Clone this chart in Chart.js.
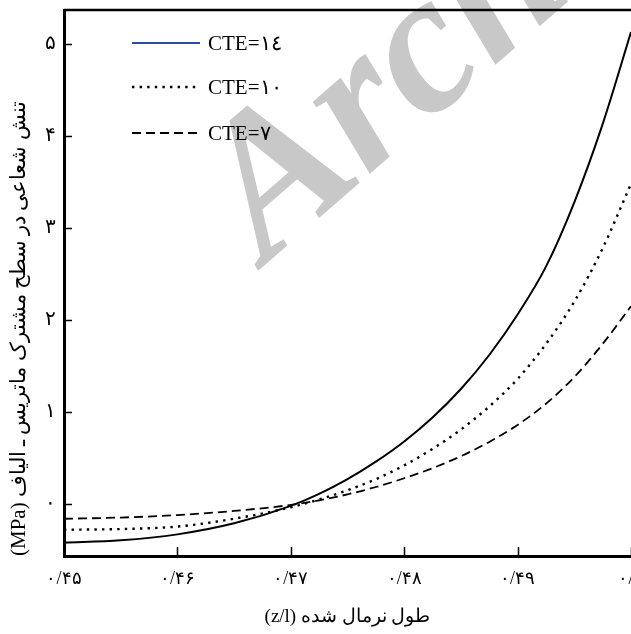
<!DOCTYPE html>
<html>
<head>
<meta charset="utf-8">
<script src="https://cdn.jsdelivr.net/npm/chart.js@4.4.1/dist/chart.umd.min.js"></script>
<style>
  html, body { margin: 0; padding: 0; background: #fff; }
  #wrap { width: 631px; height: 634px; position: relative; }
</style>
</head>
<body>
<div id="wrap"><canvas id="chart" dir="rtl"></canvas></div>
<script>
// === Daten ===
const zValues = [0.45, 0.455, 0.46, 0.465, 0.47, 0.4725, 0.475, 0.4775, 0.48, 0.4825, 0.485, 0.4875, 0.49, 0.4925, 0.495, 0.4975, 0.50];
const stressCTE14 = [-0.42, -0.395, -0.33, -0.21, -0.02, 0.11, 0.27, 0.46, 0.68, 0.94, 1.25, 1.62, 2.06, 2.58, 3.28, 4.13, 5.13];
const stressCTE10 = [-0.28, -0.272, -0.245, -0.16, -0.035, 0.05, 0.15, 0.27, 0.42, 0.60, 0.81, 1.06, 1.36, 1.74, 2.20, 2.78, 3.48];
const stressCTE7 = [-0.16, -0.147, -0.12, -0.075, -0.01, 0.04, 0.105, 0.185, 0.28, 0.39, 0.52, 0.675, 0.86, 1.09, 1.38, 1.74, 2.15];

const seriesLabels = ["CTE=١٤", "CTE=١٠", "CTE=٧"];
const legendColors = ["#2d4c9c", "#000000", "#000000"];

const xTickValues = [0.45, 0.46, 0.47, 0.48, 0.49, 0.50];
const xTickLabels = ["۰/۴۵", "۰/۴۶", "۰/۴۷", "۰/۴۸", "۰/۴۹", "۰/۵"];
const yTickValues = [0, 1, 2, 3, 4, 5];
const yTickLabels = ["۰", "۱", "۲", "۳", "۴", "۵"];

const xTitle = "طول نرمال شده (z/l)";
const yTitle = "تنش شعاعی در سطح مشترک ماتریس ـ الیاف (MPa)";
const watermarkText = "Archive";

const SERIF = "'Liberation Serif', 'DejaVu Serif', serif";

// === Plugins ===
// Wasserzeichen hinter allem
const watermark = {
  id: "watermark",
  beforeDraw(chart) {
    const ctx = chart.ctx;
    ctx.save();
    ctx.direction = "ltr";
    ctx.translate(266, 264);
    ctx.rotate(-41 * Math.PI / 180);
    ctx.font = "italic bold 200px " + SERIF;
    ctx.fillStyle = "#c8c8c8";
    ctx.textAlign = "left";
    ctx.textBaseline = "alphabetic";
    ctx.fillText(watermarkText, 0, 0);
    ctx.restore();
  },
};

// Ticks nach innen + obere Rahmenlinie
const frame = {
  id: "frame",
  afterDraw(chart) {
    const { ctx, chartArea, scales } = chart;
    ctx.save();
    ctx.strokeStyle = "#000";
    ctx.lineWidth = 1.5;
    ctx.beginPath();
    yTickValues.forEach((v) => {
      const y = Math.round(scales.y.getPixelForValue(v)) + 0.5;
      ctx.moveTo(chartArea.left, y);
      ctx.lineTo(chartArea.left + 8, y);
    });
    xTickValues.forEach((v) => {
      const x = Math.round(scales.x.getPixelForValue(v)) + 0.5;
      ctx.moveTo(x, chartArea.bottom);
      ctx.lineTo(x, chartArea.bottom - 9);
    });
    ctx.stroke();
    ctx.lineWidth = 2.5;
    ctx.beginPath();
    ctx.moveTo(chartArea.left, chartArea.top);
    ctx.lineTo(chartArea.right, chartArea.top);
    ctx.stroke();
    ctx.restore();
  },
};

// Legende innerhalb der Zeichenfläche
const insideLegend = {
  id: "insideLegend",
  afterDatasetsDraw(chart) {
    const { ctx, chartArea } = chart;
    const rowsY = [33, 77, 123];
    ctx.save();
    ctx.direction = "ltr";
    chart.data.datasets.forEach((ds, i) => {
      const y = chartArea.top + rowsY[i];
      ctx.strokeStyle = legendColors[i];
      ctx.lineWidth = ds.borderWidth;
      ctx.setLineDash(ds.borderDash || []);
      ctx.beginPath();
      ctx.moveTo(chartArea.left + 68, y);
      ctx.lineTo(chartArea.left + 136, y);
      ctx.stroke();
      ctx.setLineDash([]);
      ctx.fillStyle = "#000";
      ctx.font = "21px " + SERIF;
      ctx.textAlign = "left";
      ctx.textBaseline = "middle";
      ctx.fillText(ds.label, chartArea.left + 144, y + 1);
    });
    ctx.restore();
  },
};

// === Chart ===
const toPoints = (ys) => ys.map((y, i) => ({ x: zValues[i], y }));

new Chart(document.getElementById("chart"), {
  type: "line",
  data: {
    datasets: [
      {
        label: seriesLabels[0],
        data: toPoints(stressCTE14),
        borderColor: "#000",
        borderWidth: 2,
        borderDash: [],
      },
      {
        label: seriesLabels[1],
        data: toPoints(stressCTE10),
        borderColor: "#000",
        borderWidth: 2.4,
        borderDash: [2.4, 5.2],
      },
      {
        label: seriesLabels[2],
        data: toPoints(stressCTE7),
        borderColor: "#000",
        borderWidth: 1.8,
        borderDash: [9, 5],
      },
    ],
  },
  options: {
    responsive: true,
    maintainAspectRatio: false,
    animation: false,
    events: [],
    layout: { padding: { top: 10, right: 0, bottom: 0, left: 0 } },
    elements: {
      point: { radius: 0 },
      line: { cubicInterpolationMode: "monotone", fill: false },
    },
    scales: {
      x: {
        type: "linear",
        min: 0.45,
        max: 0.50,
        afterBuildTicks: (s) => { s.ticks = xTickValues.map((v) => ({ value: v })); },
        afterFit: (s) => { s.height = 78; s.paddingLeft = 0; s.paddingRight = 0; },
        grid: { display: false, drawTicks: false },
        border: { display: true, color: "#000", width: 3 },
        ticks: {
          autoSkip: false,
          maxRotation: 0,
          padding: 12,
          color: "#000",
          font: { family: SERIF, size: 18 },
          callback: (v, i) => xTickLabels[i],
        },
        title: {
          display: true,
          text: xTitle,
          color: "#000",
          font: { family: SERIF, size: 19 },
          padding: { top: 0, bottom: 6 },
        },
      },
      y: {
        type: "linear",
        min: -0.565,
        max: 5.37,
        afterBuildTicks: (s) => { s.ticks = yTickValues.map((v) => ({ value: v })); },
        afterFit: (s) => { s.width = 64; s.paddingTop = 0; s.paddingBottom = 0; },
        grid: { display: false, drawTicks: false },
        border: { display: true, color: "#000", width: 3 },
        ticks: {
          autoSkip: false,
          padding: 8,
          color: "#000",
          font: { family: SERIF, size: 20 },
          callback: (v, i) => yTickLabels[i],
        },
        title: {
          display: true,
          text: yTitle,
          align: "start",
          color: "#000",
          font: { family: SERIF, size: 21 },
          padding: { top: 7, bottom: 0 },
        },
      },
    },
    plugins: {
      legend: { display: false },
      tooltip: { enabled: false },
    },
  },
  plugins: [watermark, frame, insideLegend],
});
</script>
</body>
</html>
